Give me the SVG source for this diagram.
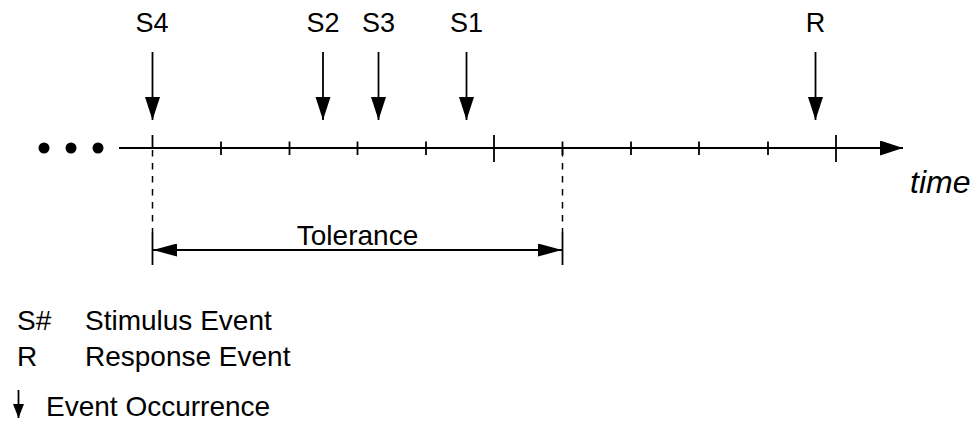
<svg xmlns="http://www.w3.org/2000/svg" width="973" height="423" viewBox="0 0 973 423">
<style>
text{font-family:"Liberation Sans",Arial,sans-serif;fill:#000}
.lbl{font-size:27px;text-anchor:middle}
.leg{font-size:28px}
.ln{stroke:#000;stroke-width:1.8;fill:none}
.dash{stroke:#000;stroke-width:1.5;stroke-dasharray:6.5 6.5;fill:none}
</style>
<defs>
<marker id="ah" markerUnits="userSpaceOnUse" markerWidth="24" markerHeight="16" refX="23" refY="7.5" orient="auto-start-reverse"><path d="M0,0 L23,7.5 L0,15 z" fill="#000"/></marker>
<marker id="ht" markerUnits="userSpaceOnUse" markerWidth="25" markerHeight="13" refX="24" refY="6.5" orient="auto-start-reverse"><path d="M0,0 L24,6.5 L0,13 z" fill="#000"/></marker>
<marker id="hs" markerUnits="userSpaceOnUse" markerWidth="15" markerHeight="11" refX="14" refY="5.5" orient="auto"><path d="M0,0 L14,5.5 L0,11 z" fill="#000"/></marker>
</defs>
<g id="timeline">
<circle cx="44" cy="148" r="5.5"/><circle cx="71" cy="148" r="5.5"/><circle cx="98" cy="148" r="5.5"/>
<line class="ln" x1="119" y1="148" x2="903" y2="148" marker-end="url(#ah)"/>
<g class="ln">
<line x1="152.5" y1="135" x2="152.5" y2="148"/>
<line x1="221" y1="141.5" x2="221" y2="155"/>
<line x1="289.5" y1="141.5" x2="289.5" y2="155"/>
<line x1="357.5" y1="141.5" x2="357.5" y2="155"/>
<line x1="426" y1="141.5" x2="426" y2="155"/>
<line x1="494" y1="135" x2="494" y2="162"/>
<line x1="562.5" y1="141.5" x2="562.5" y2="155"/>
<line x1="631" y1="141.5" x2="631" y2="155"/>
<line x1="699" y1="141.5" x2="699" y2="155"/>
<line x1="768" y1="141.5" x2="768" y2="155"/>
<line x1="836" y1="135" x2="836" y2="162"/>
</g>
<text x="910" y="193" style="font-size:32px;font-style:italic">time</text>
</g>
<g id="events">
<text class="lbl" x="152" y="32">S4</text>
<text class="lbl" x="323" y="32">S2</text>
<text class="lbl" x="378.5" y="32">S3</text>
<text class="lbl" x="466.5" y="32">S1</text>
<text class="lbl" x="815.5" y="32">R</text>
</g>
<g id="connectors">
<line class="ln" x1="152.5" y1="52" x2="152.5" y2="120" marker-end="url(#ah)"/>
<line class="ln" x1="323" y1="52" x2="323" y2="120" marker-end="url(#ah)"/>
<line class="ln" x1="378.5" y1="52" x2="378.5" y2="120" marker-end="url(#ah)"/>
<line class="ln" x1="466.5" y1="52" x2="466.5" y2="120" marker-end="url(#ah)"/>
<line class="ln" x1="815.5" y1="52" x2="815.5" y2="120" marker-end="url(#ah)"/>
</g>
<g id="tolerance">
<line class="dash" x1="152.5" y1="150" x2="152.5" y2="232"/>
<line class="dash" x1="562.5" y1="150" x2="562.5" y2="232"/>
<line class="ln" x1="152.5" y1="232" x2="152.5" y2="265"/>
<line class="ln" x1="562.5" y1="232" x2="562.5" y2="265"/>
<line class="ln" x1="153" y1="250" x2="562" y2="250" marker-start="url(#ht)" marker-end="url(#ht)"/>
<text x="357.5" y="245" style="font-size:28px;text-anchor:middle">Tolerance</text>
</g>
<g id="legend">
<text class="leg" x="17" y="330">S#</text>
<text class="leg" x="85" y="330">Stimulus Event</text>
<text class="leg" x="17" y="366">R</text>
<text class="leg" x="85" y="366">Response Event</text>
<line class="ln" x1="18.5" y1="390" x2="18.5" y2="418" marker-end="url(#hs)"/>
<text class="leg" x="46" y="416">Event Occurrence</text>
</g>
</svg>
